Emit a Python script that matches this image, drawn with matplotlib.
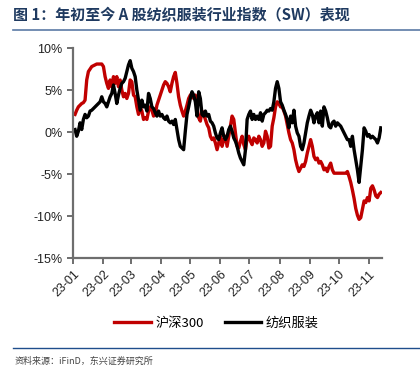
import numpy as np
import pandas as pd
import matplotlib
matplotlib.use("Agg")
import matplotlib.pyplot as plt
import matplotlib.dates as mdates
from matplotlib.ticker import FuncFormatter

plt.rcParams['font.family'] = ['Liberation Sans', 'Noto Sans CJK SC', 'DejaVu Sans']

# cumulative return since the start of 2023, in %
hs300 = [2.1, 2.6, 3.0, 3.2, 3.4, 3.5, 3.8, 6.2, 7.2, 7.5,
         7.8, 7.9, 8.0, 8.1, 8.1, 8.1, 8.1, 7.8, 6.6, 5.8,
         5.2, 6.2, 5.4, 6.6, 5.8, 6.6, 5.4, 6.2, 5.0, 4.2,
         4.6, 4.0, 4.6, 6.2, 6.0, 4.4, 4.2, 3.0, 2.1, 3.0,
         2.5, 1.5, 1.7, 1.5, 2.5, 3.0, 2.6, 1.9, 2.1, 3.2,
         3.8, 4.4, 5.0, 5.6, 6.0, 5.8, 5.4, 4.8, 5.8, 6.6,
         7.1, 5.8, 4.2, 3.2, 2.5, 1.9, 2.5, 3.2, 4.0, 4.4,
         4.6, 4.0, 4.4, 3.0, 1.7, 1.3, 2.5, 2.1, 1.5, 0.9,
         0.5, -0.5, -0.9, -0.7, -1.3, -2.1, -1.3, -0.5, -1.7, -0.9,
         -0.5, -1.7, -0.5, 0.7, 1.9, 1.5, -0.1, -1.7, -1.9, -1.1,
         -0.5, -1.5, -2.1, -0.7, -0.5, -1.1, -1.5, -0.7, -0.9, -1.3,
         -0.5, -0.9, -1.7, -1.3, 0.1, -0.5, -1.9, -1.7, 0.7, 1.7,
         3.0, 3.6, 3.4, 3.0, 3.0, 2.5, 1.9, 0.9, -0.1, -0.9,
         -1.3, -2.1, -3.3, -4.1, -4.7, -4.3, -3.9, -4.1, -3.5, -2.5,
         -1.7, -0.9, -1.7, -2.9, -3.3, -3.1, -3.7, -3.5, -3.9, -4.5,
         -4.3, -4.7, -4.1, -3.7, -4.5, -4.9, -4.9, -4.9, -4.9, -4.9,
         -4.9, -4.9, -4.9, -4.7, -5.3, -6.0, -6.9, -7.9, -9.1, -9.9,
         -10.4, -10.2, -9.2, -8.2, -8.4, -7.8, -8.2, -6.7, -6.4, -6.9,
         -7.6, -7.8, -7.4, -7.2]

textile = [0.3, -0.5, 0.1, 1.1, 0.3, 1.5, 2.1, 1.7, 1.9, 2.5,
           2.6, 2.8, 3.0, 3.2, 3.4, 3.6, 4.2, 3.6, 3.4, 3.0,
           3.6, 4.2, 4.6, 5.6, 4.6, 3.4, 4.4, 5.2, 5.8, 6.0,
           6.4, 7.2, 8.0, 8.5, 7.6, 7.2, 6.6, 5.0, 3.8, 2.6,
           3.8, 3.0, 3.2, 2.5, 4.6, 4.0, 3.0, 2.8, 2.3, 1.9,
           2.5, 1.9, 2.1, 1.7, 1.5, 1.9, 1.3, 1.1, 1.3, 0.9,
           1.5, 0.3, -0.9, -1.7, -1.9, -2.1, 0.1, 2.1, 3.0, 4.0,
           4.8, 4.4, 3.6, 1.9, 4.8, 4.0, 2.1, 1.9, 2.5, 1.9,
           2.1, 1.3, 1.1, 0.7, -0.1, -0.7, -0.9, -0.1, 0.5, -0.5,
           -0.9, -0.5, 0.3, 0.7, 0.1, -0.7, -1.1, -1.7, -2.5, -3.1,
           -3.5, -3.9, -2.1, 1.5, 2.1, 2.5, 1.5, 2.1, 1.5, 1.9,
           1.5, 2.3, 1.3, 2.1, 2.3, 2.6, 2.5, 2.8, 2.6, 3.6,
           5.2, 6.0, 5.2, 3.6, 3.2, 2.6, 2.1, 1.5, 0.5, 1.9,
           1.1, 2.6, 0.7, -0.1, -0.5, -1.7, -2.1, -1.3, -0.1, 1.1,
           1.9, 2.6, 2.1, 1.1, 1.9, 2.3, 1.1, 2.5, 0.7, 3.0,
           2.5, 1.7, 0.7, 0.5, 1.1, 1.3, 0.7, 1.1, 0.9, 0.7,
           0.3, -0.1, -0.5, -0.9, -0.9, -1.7, -0.5, -2.1, -3.3, -4.5,
           -6.0, -4.1, -2.1, 0.5, 0.1, -0.5, -0.3, -0.7, -0.5, -0.7,
           -0.9, -1.3, -0.7, 0.5]

dates = pd.date_range('2023-01-03', '2023-11-13', periods=len(hs300))

title = "图 1：年初至今 A 股纺织服装行业指数（SW）表现"
source = "资料来源：iFinD，东兴证券研究所"
names = ["沪深300", "纺织服装"]
cjk = ['Noto Sans CJK SC', 'DejaVu Sans']

fig = plt.figure(figsize=(4.2, 3.67), dpi=100)
ax = fig.add_axes([0.174, 0.297, 0.735, 0.572])

ax.plot(dates, hs300, color="#c00000", lw=2.4, label=names[0])
ax.plot(dates, textile, color="black", lw=2.4, label=names[1])

ax.set_ylim(-15, 10)
ax.set_yticks(np.arange(-15, 11, 5))
ax.yaxis.set_major_formatter(FuncFormatter(lambda v, p: "%d%%" % v))
ax.set_xlim(pd.Timestamp('2023-01-01'), pd.Timestamp('2023-11-14'))
ax.xaxis.set_major_locator(mdates.MonthLocator())
ax.xaxis.set_major_formatter(mdates.DateFormatter('%y-%m'))

for s in ["top", "right"]:
    ax.spines[s].set_visible(False)
for s in ["left", "bottom"]:
    ax.spines[s].set_color("#6e6e6e")
    ax.spines[s].set_linewidth(1.6)
ax.tick_params(axis="both", colors="#6e6e6e", width=1.4, length=4,
               labelcolor="#222222", labelsize=9)
plt.setp(ax.get_xticklabels(), rotation=45, ha="right", rotation_mode="anchor")

fig.legend(loc="center", bbox_to_anchor=(0.515, 1 - 323 / 367), ncol=2,
           frameon=False, handlelength=2.8, columnspacing=1.6,
           handletextpad=0.3, prop={'family': cjk, 'size': 9.5})

fig.text(0.03, 1 - 15 / 367, title, fontsize=10.8, fontweight="bold",
         color="#1f3a60", va="center", family=cjk)
fig.add_artist(plt.Line2D([0.03, 1.0], [1 - 30 / 367] * 2, color="#5b7aa6", lw=1.2))
fig.add_artist(plt.Line2D([0.03, 1.0], [1 - 348 / 367] * 2, color="#1f4e8c", lw=1.0))
fig.text(0.035, 1 - 361 / 367, source, fontsize=6.5, style="italic",
         color="#444444", va="center", family=cjk)

fig.savefig("out.png", dpi=100)
